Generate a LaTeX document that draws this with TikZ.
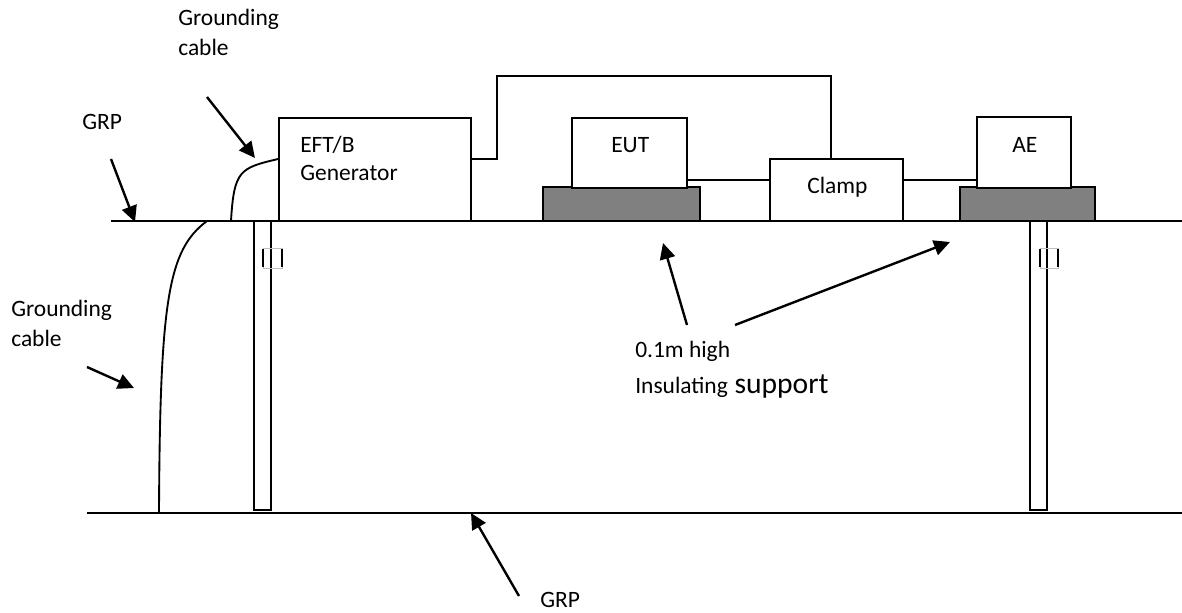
\documentclass[tikz,border=0pt]{standalone}
\usepackage{fontspec}
\setmainfont{Carlito}
\usetikzlibrary{arrows.meta}
\tikzset{
  x=0.75pt,y=-0.75pt,
  wire/.style={draw=black,line width=1.4pt},
  box/.style={draw=black,line width=1.4pt,fill=white,rectangle,inner sep=0pt},
  pad/.style={draw=black,line width=1.4pt,fill=black!50,rectangle,inner sep=0pt},
  ptr/.style={draw=black,line width=1.8pt,-{Triangle[length=12pt,width=11.5pt]}},
  lbl/.style={inner sep=0pt,align=left,anchor=base west,font=\fontsize{17.6}{21}\selectfont},
  wide/.style={font=\fontsize{17.6}{22.5}\selectfont},
  tick/.style={draw=black,line width=0.9pt},
  ghost/.style={draw=black!25,line width=.3pt},
}
\begin{document}
\begin{tikzpicture}
\useasboundingbox (0,0) rectangle (1182,612);
\coordinate (t1) at (111,221);\coordinate (t2) at (1182,221);
\coordinate (b1) at (87,513);\coordinate (b2) at (1182,513);
\draw[wire] (t1)--(t2);
\draw[wire] (b1)--(b2);
% posts
\node[box,minimum width=12.75pt,minimum height=216.75pt] (p1) at (262.5,365.5) {};
\node[box,minimum width=12.75pt,minimum height=216.75pt] (p2) at (1038.5,365.5) {};
\draw[ghost] (263,248) rectangle (282,268);
\draw[ghost] (1040,248) rectangle (1058,268);
\draw[tick] (263,249)--(263,267) (282,249)--(282,267);
\draw[tick] (1040,249)--(1040,267) (1058,249)--(1058,267);
% supports
\node[pad,minimum width=117.75pt,minimum height=25.5pt] (s1) at (621.5,204) {};
\node[pad,minimum width=101.25pt,minimum height=25.5pt] (s2) at (1027.5,204) {};
% boxes
\node[box,minimum width=144pt,minimum height=77.25pt] (gen) at (375,169.5) {};
\node[box,minimum width=86.25pt,minimum height=52.5pt] (eut) at (629.5,153) {};
\node[box,minimum width=100pt,minimum height=46.5pt] (clamp) at (836.5,190) {};
\node[box,minimum width=70.5pt,minimum height=53.25pt] (ae) at (1024,152.5) {};
\node[lbl] (tgen) at (300,180) {EFT/B\\Generator};
\node[lbl] (teut) at (611,152) {EUT};
\node[lbl] (tcl) at (807,193) {Clamp};
\node[lbl] (tae) at (1012,152) {AE};
% connectors
\coordinate (j1) at (497,159);
\draw[wire] (gen.east|-j1)--(j1)--(497,76)--(831,76)--(831,159);
\coordinate (ly) at (0,180);
\draw[wire] (eut.east|-ly)--(clamp.west|-ly);
\draw[wire] (clamp.east|-ly)--(ae.west|-ly);
% cables
\coordinate (c1) at (231,221);\coordinate (cy) at (0,159);
\draw[wire] (c1) .. controls (234,170) and (240,168) .. (gen.west|-cy);
\coordinate (c2) at (207,221);\coordinate (c3) at (159,513);
\draw[wire] (c2) .. controls (168,250) and (160,300) .. (c3);
% labels
\node[lbl,wide] (g1) at (178,55) {Grounding\\cable};
\node[lbl] (g2) at (82,129) {GRP};
\node[lbl,wide] (g3) at (11,346) {Grounding\\cable};
\node[lbl] (g4) at (540,607) {GRP};
\node[lbl] (ins) at (635,393) {0.1m high\\[6pt]Insulating\hspace{1pt} {\fontsize{22.2}{21}\selectfont support}};
% arrows
\coordinate (a1s) at (207,97);\coordinate (a1e) at (255,158);
\coordinate (a2s) at (111,159);\coordinate (a2e) at (135,222);
\coordinate (a3s) at (87,367);\coordinate (a3e) at (134,388);
\coordinate (a4s) at (519,596);\coordinate (a4e) at (471,513);
\coordinate (a5s) at (687,325);\coordinate (a5e) at (663,243);
\coordinate (a6s) at (735,325);\coordinate (a6e) at (950,242);
\draw[ptr] (a1s)--(a1e);
\draw[ptr] (a2s)--(a2e);
\draw[ptr] (a3s)--(a3e);
\draw[ptr] (a4s)--(a4e);
\draw[ptr] (a5s)--(a5e);
\draw[ptr] (a6s)--(a6e);
\end{tikzpicture}
\end{document}
